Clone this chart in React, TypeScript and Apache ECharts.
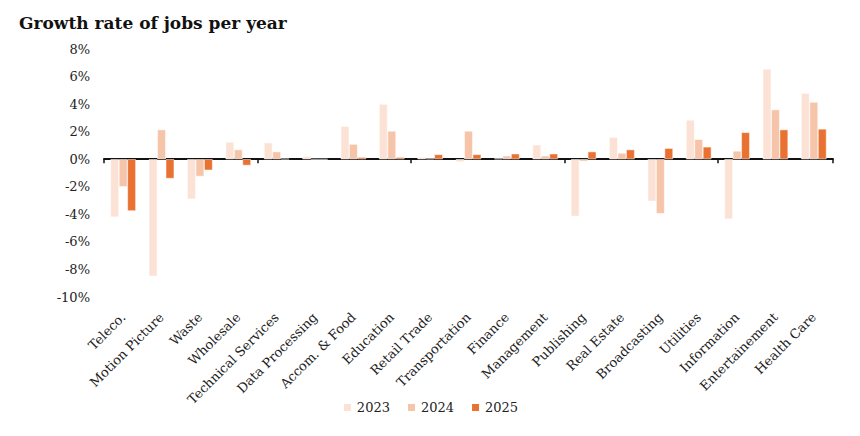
import React, { useEffect, useRef } from "react";
import * as echarts from "echarts";

const categories = [
  "Teleco.", "Motion Picture", "Waste", "Wholesale", "Technical Services",
  "Data Processing", "Accom. & Food", "Education", "Retail Trade", "Transportation",
  "Finance", "Management", "Publishing", "Real Estate", "Broadcasting",
  "Utilities", "Information", "Entertainement", "Health Care",
];
const values2023 = [-4.2, -8.5, -2.9, 1.25, 1.2, 0.2, 2.4, 4.0, 0.15, -0.2, 0.05, 1.05, -4.15, 1.6, -3.05, 2.85, -4.35, 6.55, 4.8];
const values2024 = [-2.0, 2.15, -1.25, 0.7, 0.55, 0.0, 1.1, 2.05, 0.05, 2.05, 0.25, 0.25, -0.15, 0.45, -3.95, 1.45, 0.6, 3.6, 4.15];
const values2025 = [-3.75, -1.4, -0.8, -0.45, 0.03, 0.0, 0.15, 0.15, 0.35, 0.35, 0.4, 0.4, 0.55, 0.7, 0.8, 0.9, 1.95, 2.15, 2.2];
const seriesNames = ["2023", "2024", "2025"];
const colors = ["#FBE2D5", "#F6C4A8", "#E97132"];

const FONT = "Georgia, 'DejaVu Serif', serif";

export default function App() {
  const ref = useRef<HTMLDivElement>(null);
  useEffect(() => {
    document.body.style.margin = "0";
    const chart = echarts.init(ref.current!, null, { renderer: "svg" });
    const data = [values2023, values2024, values2025];
    chart.setOption({
      animation: false,
      textStyle: { fontFamily: FONT },
      title: {
        text: "Growth rate of jobs per year",
        left: 14,
        top: 9,
        textStyle: { fontFamily: FONT, fontWeight: "bold", fontSize: 17, color: "#111" },
      },
      legend: {
        data: seriesNames,
        bottom: 17,
        left: "center",
        itemWidth: 9,
        itemHeight: 9,
        itemGap: 16,
        icon: "rect",
        textStyle: { fontFamily: FONT, fontSize: 13, color: "#222" },
      },
      grid: { left: 104, right: 27, top: 49, bottom: 139 },
      xAxis: [
        {
          type: "category",
          data: categories,
          axisLine: { onZero: true, lineStyle: { color: "#111", width: 2 } },
          axisTick: { show: true, length: 4, lineStyle: { color: "#111", width: 1.5 } },
          axisLabel: { show: false },
        },
        {
          type: "category",
          data: categories,
          position: "bottom",
          axisLine: { show: false, onZero: false },
          axisTick: { show: false },
          axisLabel: {
            show: true,
            rotate: 45,
            interval: 0,
            margin: 18,
            fontFamily: FONT,
            fontSize: 13,
            color: "#222",
          },
        },
      ],
      yAxis: {
        type: "value",
        min: -10,
        max: 8,
        interval: 2,
        axisLine: { show: false },
        axisTick: { show: false },
        splitLine: { show: false },
        axisLabel: {
          formatter: (v: number) => `${v}%`,
          fontFamily: FONT,
          fontSize: 13,
          color: "#222",
          margin: 14,
        },
      },
      series: seriesNames.map((name, i) => ({
        name,
        type: "bar",
        xAxisIndex: 0,
        data: data[i],
        barGap: "0%",
        barCategoryGap: "34%",
        itemStyle: { color: colors[i], borderColor: "#fff", borderWidth: 0.5 },
      })),
    });
    return () => chart.dispose();
  }, []);
  return <div ref={ref} style={{ width: 860, height: 436 }} />;
}
